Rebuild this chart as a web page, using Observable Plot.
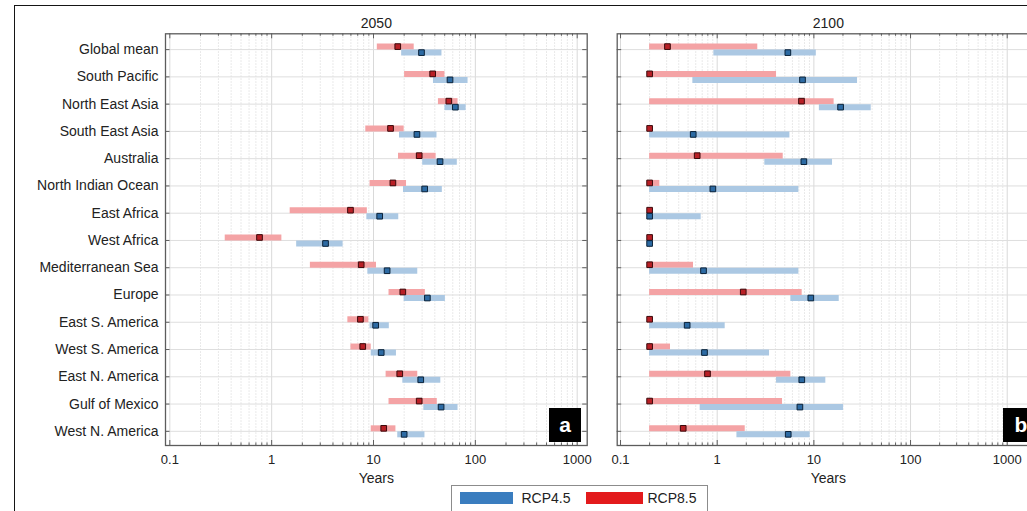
<!DOCTYPE html>
<html><head><meta charset="utf-8">
<script src="https://cdn.jsdelivr.net/npm/d3@7"></script>
<script src="https://cdn.jsdelivr.net/npm/@observablehq/plot@0.6"></script>
<style>
html,body{margin:0;padding:0;background:#fff;overflow:hidden;}
#wrap{position:relative;width:1027px;height:511px;overflow:hidden;background:#fff;font-family:"Liberation Sans",Arial,sans-serif;color:#222;}
#border{position:absolute;left:14px;top:5px;width:2000px;height:2000px;border:1.5px solid #151515;box-sizing:border-box;}
.panel{position:absolute;top:0;}
.tag{position:absolute;top:408px;height:34px;background:#000;color:#fff;font-weight:bold;font-size:21px;line-height:34px;text-align:center;}
#legend{position:absolute;left:451px;top:485px;width:257px;height:40px;border:1px solid #8c8c8c;background:#fff;box-sizing:border-box;}
.sw{position:absolute;top:6px;height:12px;}
.lt{position:absolute;top:4px;font-size:14px;line-height:16px;color:#222;}
</style></head>
<body><div id="wrap"><div id="border"></div></div>
<script>
const regions = ["Global mean","South Pacific","North East Asia","South East Asia","Australia","North Indian Ocean","East Africa","West Africa","Mediterranean Sea","Europe","East S. America","West S. America","East N. America","Gulf of Mexico","West N. America"];

// 2050
const rcp85_2050_lo  = [10.9, 20.2, 43.4, 8.4, 17.6, 9.25, 1.52, 0.35, 2.4, 14.2, 5.6, 6.0, 13.3, 14.2, 9.5];
const rcp85_2050_hi  = [25.1, 50.3, 67.6, 20, 41.2, 21.1, 8.7, 1.26, 10.7, 32.3, 9.0, 9.5, 27.2, 42.3, 16.6];
const rcp85_2050_med = [17.3, 38.1, 54.9, 14.7, 28.1, 15.5, 5.94, 0.76, 7.57, 19.4, 7.44, 7.84, 18.1, 28.1, 12.6];
const rcp45_2050_lo  = [18.9, 38.8, 50.3, 18, 30.4, 19.7, 8.6, 1.76, 8.8, 20, 9.25, 9.5, 19.4, 31.2, 17.3];
const rcp45_2050_hi  = [47, 84.8, 81.2, 42, 66.5, 47.4, 17.7, 5.03, 27.2, 50.8, 14.3, 16.8, 45.8, 67.6, 32];
const rcp45_2050_med = [29.6, 56.4, 63.6, 26.7, 45, 31.8, 11.5, 3.38, 13.6, 33.8, 10.5, 11.9, 29.1, 46.1, 20];

// 2100
const rcp85_2100_lo  = [0.2, 0.2, 0.2, 0.2, 0.2, 0.2, 0.2, 0.2, 0.2, 0.2, 0.2, 0.2, 0.2, 0.2, 0.2];
const rcp85_2100_hi  = [2.63, 4.11, 16.2, 0.2, 4.82, 0.255, 0.2, 0.2, 0.569, 7.57, 0.2, 0.329, 5.78, 4.74, 1.95];
const rcp85_2100_med = [0.306, 0.2, 7.45, 0.2, 0.621, 0.2, 0.2, 0.2, 0.2, 1.86, 0.2, 0.2, 0.794, 0.2, 0.445];
const rcp45_2100_lo  = [0.924, 0.56, 11.4, 0.2, 3.11, 0.2, 0.2, 0.2, 0.2, 5.78, 0.2, 0.2, 4.11, 0.667, 1.6];
const rcp45_2100_hi  = [10.6, 28.3, 39.2, 5.65, 15.6, 7.0, 0.683, 0.2, 7.0, 18.3, 1.21, 3.48, 13.3, 20.3, 9.16];
const rcp45_2100_med = [5.38, 7.63, 18.9, 0.565, 7.88, 0.902, 0.2, 0.2, 0.722, 9.3, 0.489, 0.739, 7.5, 7.17, 5.43];

const xTickLabels = [0.1, 1, 10, 100, 1000];
const seriesNames = ["RCP4.5", "RCP8.5"];
const seriesColors = ["#3a7dbf", "#e31a1c"];

function table(lo85, hi85, med85, lo45, hi45, med45) {
  return regions.map((name, i) => ({i, name, lo85: lo85[i], hi85: hi85[i], med85: med85[i], lo45: lo45[i], hi45: hi45[i], med45: med45[i]}));
}

const idx = regions.map((d, i) => i);

function panel({data, title, width, mLeft, mRight, xDomain, yLabels}) {
  const height = 495, mTop = 33.3, mBottom = 50;
  const fh = height - mTop - mBottom;
  const fw = width - mLeft - mRight;
  const minors = [];
  for (const d of [0.01, 0.1, 1, 10, 100, 1000]) for (let k = 2; k <= 9; k++) {
    const v = d * k; if (v > xDomain[0] && v < xDomain[1]) minors.push(v);
  }
  const majors = [0.01, 0.1, 1, 10, 100, 1000, 10000].filter(v => v >= xDomain[0] && v <= xDomain[1]);
  const tickStroke = "#5e5e5e";
  const marks = [
    Plot.ruleX(minors, {stroke: "#e2e2e2", strokeDasharray: "1.5,1.5"}),
    Plot.ruleX(majors, {stroke: "#d9d9d9"}),
    Plot.ruleY(idx, {stroke: "#dedede"}),
    Plot.ruleY(data, {y: "i", x1: "lo85", x2: "hi85", dy: -3, stroke: "#f4a3a5", strokeWidth: 6}),
    Plot.ruleY(data, {y: "i", x1: "lo45", x2: "hi45", dy: 3, stroke: "#abc8e3", strokeWidth: 6}),
    Plot.dot(data, {x: "med85", y: "i", dy: -3, symbol: "square", r: 3.2, fill: "#b81f25", stroke: "#3a0a0c", strokeWidth: 1}),
    Plot.dot(data, {x: "med45", y: "i", dy: 3, symbol: "square", r: 3.2, fill: "#2c6aa3", stroke: "#0b2238", strokeWidth: 1}),
    Plot.ruleX(majors, {insetTop: fh - 5, stroke: tickStroke}),
    Plot.ruleX(majors, {insetBottom: fh - 5, stroke: tickStroke}),
    Plot.ruleX(minors, {insetTop: fh - 2.5, stroke: tickStroke}),
    Plot.ruleX(minors, {insetBottom: fh - 2.5, stroke: tickStroke}),
    Plot.ruleY(idx, {insetRight: fw - 4.5, stroke: tickStroke}),
    Plot.ruleY(idx, {insetLeft: fw - 4.5, stroke: tickStroke}),
    Plot.frame({stroke: "#5c5c5c", strokeWidth: 1.3}),
    Plot.axisX(xTickLabels, {tickSize: 0, tickPadding: 9, fontSize: 13, fill: "#222", tickFormat: d => String(d), label: null}),
    Plot.text([title], {text: d => d, frameAnchor: "top", dy: -10.5, lineAnchor: "middle", fontSize: 14, fill: "#222"}),
    Plot.text(["Years"], {text: d => d, frameAnchor: "bottom", dy: 33.3, lineAnchor: "middle", fontSize: 14, fill: "#222"})
  ];
  if (yLabels) marks.push(Plot.axisY(idx, {tickSize: 0, tickPadding: 7, fontSize: 14, fill: "#222", tickFormat: i => regions[i], label: null}));
  return Plot.plot({
    width, height, marginLeft: mLeft, marginRight: mRight, marginTop: mTop, marginBottom: mBottom,
    style: {fontFamily: '"Liberation Sans", Arial, sans-serif', background: "transparent", overflow: "visible"},
    x: {type: "log", domain: xDomain, axis: null},
    y: {type: "linear", domain: [-0.58, 14.52], reverse: true, axis: null},
    marks
  });
}

const wrap = document.getElementById("wrap");
const left = panel({data: table(rcp85_2050_lo, rcp85_2050_hi, rcp85_2050_med, rcp45_2050_lo, rcp45_2050_hi, rcp45_2050_med),
  title: "2050", width: 600, mLeft: 165, mRight: 13.3, xDomain: [0.0907, 1254], yLabels: true});
left.classList.add("panel"); left.style.left = "0px";
wrap.appendChild(left);
const right = panel({data: table(rcp85_2100_lo, rcp85_2100_hi, rcp85_2100_med, rcp45_2100_lo, rcp45_2100_hi, rcp45_2100_med),
  title: "2100", width: 465, mLeft: 16.7, mRight: 26, xDomain: [0.0924, 2158], yLabels: false});
right.classList.add("panel"); right.style.left = "600px";
wrap.appendChild(right);

function tag(txt, x, w) {
  const d = document.createElement("div"); d.className = "tag"; d.textContent = txt;
  d.style.left = x + "px"; d.style.width = w + "px"; wrap.appendChild(d);
}
tag("a", 549, 32);
tag("b", 1003, 36);

const lg = document.createElement("div"); lg.id = "legend";
const items = [{sx: 8, sw: 53, tx: 69.5}, {sx: 134, sw: 57, tx: 195.5}];
seriesNames.forEach((n, k) => {
  const s = document.createElement("div"); s.className = "sw";
  s.style.left = items[k].sx + "px"; s.style.width = items[k].sw + "px"; s.style.background = seriesColors[k];
  const t = document.createElement("div"); t.className = "lt"; t.textContent = n; t.style.left = items[k].tx + "px";
  lg.appendChild(s); lg.appendChild(t);
});
wrap.appendChild(lg);
</script></body></html>
